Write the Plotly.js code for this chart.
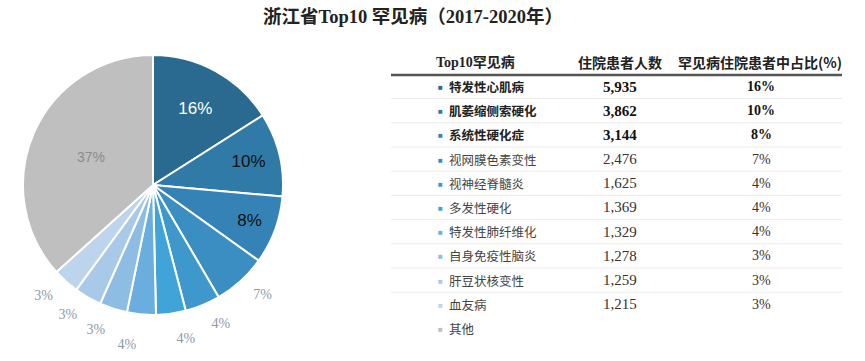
<!DOCTYPE html>
<html>
<head>
<meta charset="utf-8">
<script src="https://cdn.plot.ly/plotly-3.0.1.min.js"></script>
<style>html,body{margin:0;padding:0;background:#fff;}#chart{width:865px;height:361px;}#chart .textline{display:none;}</style>
</head>
<body>
<div id="chart"></div>
<script>
// ---- data ----
var diseases = ["特发性心肌病","肌萎缩侧索硬化","系统性硬化症","视网膜色素变性","视神经脊髓炎","多发性硬化","特发性肺纤维化","自身免疫性脑炎","肝豆状核变性","血友病"];
var patients = [5935, 3862, 3144, 2476, 1625, 1369, 1329, 1278, 1259, 1215];
var shareText = ["16%","10%","8%","7%","4%","4%","4%","3%","3%","3%"];
var otherLabel = "其他";
var otherPatients = 13600; // estimated from the 37% slice
var headers = ["Top10罕见病","住院患者人数","罕见病住院患者中占比(%)"];
var titleText = "浙江省Top10 罕见病（2017-2020年）";

// ---- styles ----
var colors = ["#2b6a90","#2f7aa6","#3583b6","#3a8ec2","#3e98cc","#40a4d8","#6aaedf","#8ebde3","#a8c9e8","#bcd5ed","#bfbfbf"];
var W = 865, H = 361;
function px(x){return x/W;}
function py(y){return 1 - y/H;}

var labels = diseases.concat([otherLabel]);
var values = patients.concat([otherPatients]);
var n = labels.length;
var innerPos = [], outerPos = [], tcolor = [], tsize = [], tfam = [];
for (var i = 0; i < n; i++) {
  var inside = (i < 3 || i === n-1);
  innerPos.push(inside ? "inside" : "none");
  outerPos.push(inside ? "none" : "outside");
  if (i === 0) { tcolor.push("#ffffff"); tsize.push(17); tfam.push("Liberation Sans, Arial, sans-serif"); }
  else if (i < 3) { tcolor.push("#111111"); tsize.push(17); tfam.push("Liberation Sans, Arial, sans-serif"); }
  else if (i === n-1) { tcolor.push("#8c8c8c"); tsize.push(14); tfam.push("Liberation Sans, Arial, sans-serif"); }
  else { tcolor.push("#8d99a8"); tsize.push(14); tfam.push("Liberation Serif, Times New Roman, serif"); }
}
var clear = labels.map(function(){return "rgba(0,0,0,0)";});

var pie = {
  type: "pie",
  labels: labels,
  values: values,
  sort: false,
  direction: "clockwise",
  rotation: 0,
  marker: {colors: colors, line: {color: "#ffffff", width: 2}},
  texttemplate: "%{percent:.0%}",
  textposition: innerPos,
  insidetextorientation: "horizontal",
  textfont: {color: tcolor, size: tsize, family: tfam},
  insidetextfont: {color: tcolor, size: tsize, family: tfam},
  hoverinfo: "label+value+percent",
  showlegend: false,
  domain: {x: [px(23), px(283)], y: [py(315), py(55)]}
};

// transparent ring used only to place the outer percentage labels further out
var outerLabels = {
  type: "pie",
  labels: labels,
  values: values,
  sort: false,
  direction: "clockwise",
  rotation: 0,
  marker: {colors: clear, line: {color: "rgba(0,0,0,0)", width: 0}},
  texttemplate: "%{percent:.0%}",
  textposition: outerPos,
  textfont: {color: tcolor, size: tsize, family: tfam},
  outsidetextfont: {color: tcolor, size: tsize, family: tfam},
  hoverinfo: "skip",
  showlegend: false,
  domain: {x: [px(10), px(296)], y: [py(328), py(42)]}
};

var cjk = "Noto Sans CJK SC, sans-serif";
var num = "Liberation Serif, Times New Roman, serif";
var ann = [];
var shapes = [];
var colX = [476, 620, 760];
var headerY = 62;
headers.forEach(function(h, j){
  ann.push({xref:"paper", yref:"paper", x:px(colX[j]), y:py(headerY), text:h, showarrow:false,
    xanchor:"center", yanchor:"middle",
    font:{family: j===0 ? "Liberation Serif, " + cjk : cjk, size:14, color:"#222", weight:"bold"}});
});
shapes.push({type:"line", xref:"paper", yref:"paper", x0:px(391), x1:px(842), y0:py(75), y1:py(75),
  line:{color:"#555555", width:2.5}});

var rowY0 = 86.5, rowStep = 24.2;
for (var r = 0; r < n; r++) {
  var y = rowY0 + r*rowStep;
  var bold = r < 3;
  ann.push({xref:"paper", yref:"paper", x:px(440), y:py(y), text:"■", showarrow:false,
    xanchor:"center", yanchor:"middle", font:{size:8, color:colors[r]}});
  ann.push({xref:"paper", yref:"paper", x:px(447), y:py(y), text:labels[r], showarrow:false,
    xanchor:"left", yanchor:"middle",
    font:{family:cjk, size:12.5, color: bold ? "#222" : "#444", weight: bold ? "bold" : "normal"}});
  if (r < diseases.length) {
    ann.push({xref:"paper", yref:"paper", x:px(620), y:py(y), text:patients[r].toLocaleString("en-US"), showarrow:false,
      xanchor:"center", yanchor:"middle",
      font:{family:num, size:15, color: bold ? "#111" : "#333", weight: bold ? "bold" : "normal"}});
    ann.push({xref:"paper", yref:"paper", x:px(761), y:py(y), text:shareText[r], showarrow:false,
      xanchor:"center", yanchor:"middle",
      font:{family:num, size:14, color: bold ? "#111" : "#333", weight: bold ? "bold" : "normal"}});
  }
  if (r < diseases.length - 1) {
    var sy = y + rowStep/2;
    shapes.push({type:"line", xref:"paper", yref:"paper", x0:px(391), x1:px(842), y0:py(sy), y1:py(sy),
      line:{color:"#ececec", width:1}});
  }
}

var layout = {
  width: W, height: H,
  margin: {l:0, r:0, t:0, b:0},
  paper_bgcolor: "#ffffff",
  plot_bgcolor: "#ffffff",
  title: {text: titleText, x: px(413), y: py(17), xanchor: "center", yanchor: "middle",
    font: {family: "Liberation Serif, " + cjk, size: 18.5, color: "#222", weight: "bold"}},
  annotations: ann,
  shapes: shapes
};

Plotly.newPlot("chart", [pie, outerLabels], layout, {displayModeBar: false, staticPlot: true});
</script>
</body>
</html>
